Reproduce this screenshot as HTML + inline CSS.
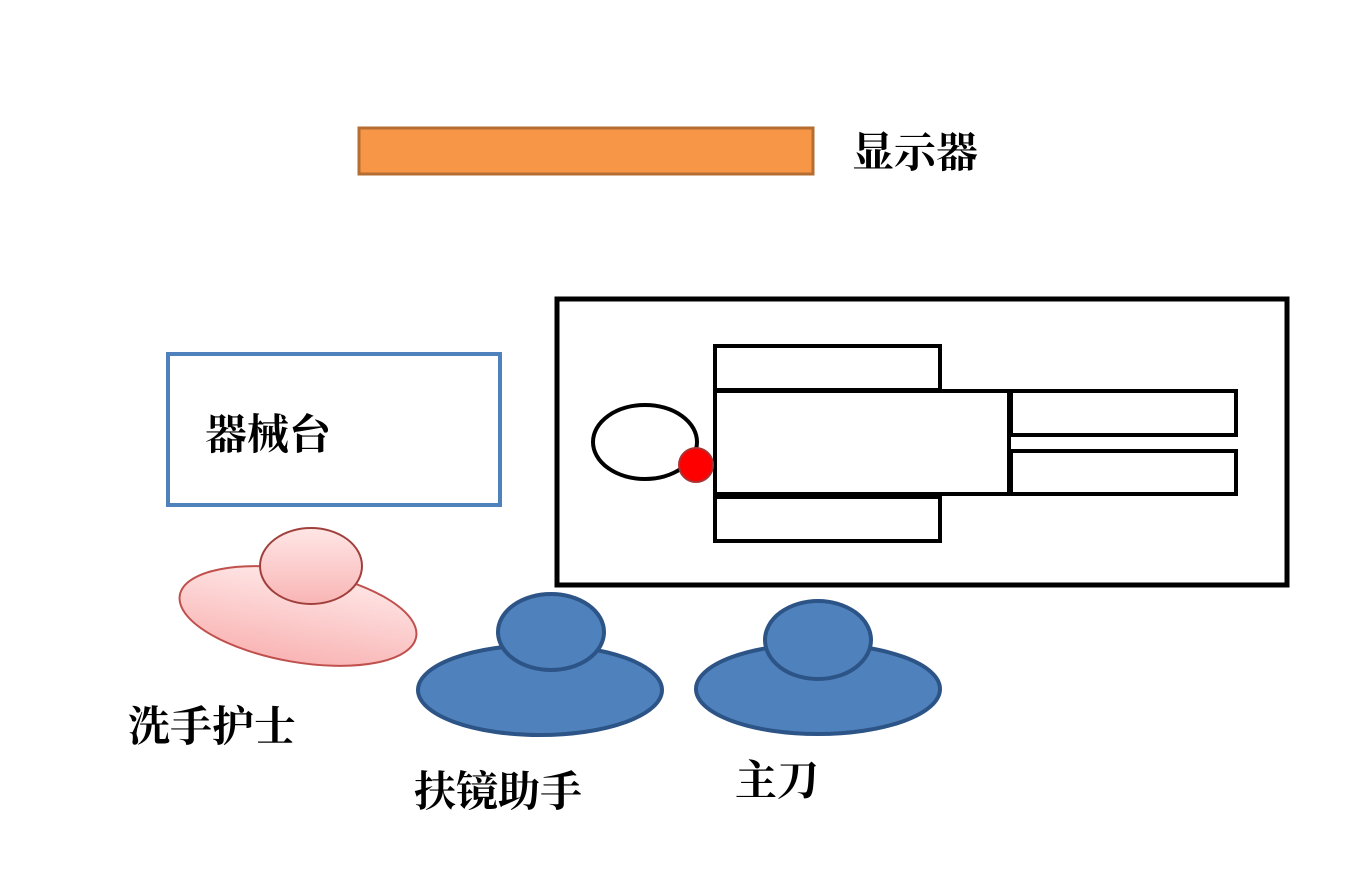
<!DOCTYPE html>
<html><head><meta charset="utf-8"><style>
html,body{margin:0;padding:0;background:#fff;}
svg{display:block}
text{font-family:"Liberation Serif","Noto Serif CJK SC",serif;font-weight:bold;fill:#000;}
</style></head><body>
<svg width="1358" height="870" viewBox="0 0 1358 870" xmlns="http://www.w3.org/2000/svg">
<defs>
<linearGradient id="pk" x1="0" y1="0" x2="0" y2="1">
<stop offset="0" stop-color="#ffe6e6"/><stop offset="1" stop-color="#f9b5b5"/>
</linearGradient>
</defs>
<rect x="359" y="128" width="454" height="46" fill="#f79646" stroke="#b66d31" stroke-width="3"/>
<text x="852" y="167" font-size="42">显示器</text>
<rect x="168" y="354" width="332" height="151" fill="#fff" stroke="#4f81bd" stroke-width="4"/>
<text x="205" y="449" font-size="42">器械台</text>
<rect x="557" y="299" width="730" height="286" fill="#fff" stroke="#000" stroke-width="5"/>
<rect x="715" y="346" width="225" height="44" fill="none" stroke="#000" stroke-width="4"/>
<rect x="715" y="497" width="225" height="44" fill="none" stroke="#000" stroke-width="4"/>
<rect x="715" y="391" width="294" height="103" fill="#fff" stroke="#000" stroke-width="4"/>
<rect x="1011" y="391" width="225" height="44" fill="none" stroke="#000" stroke-width="4"/>
<rect x="1011" y="451" width="225" height="43" fill="none" stroke="#000" stroke-width="4"/>
<ellipse cx="645" cy="442" rx="52" ry="37" fill="#fff" stroke="#000" stroke-width="4"/>
<circle cx="696" cy="465" r="17" fill="#ff0000" stroke="#a33" stroke-width="2"/>
<ellipse cx="298" cy="616" rx="120" ry="46" transform="rotate(10 298 616)" fill="url(#pk)" stroke="#c0504d" stroke-width="2"/>
<ellipse cx="311" cy="566" rx="51" ry="38" fill="url(#pk)" stroke="#a0403d" stroke-width="2"/>
<ellipse cx="540" cy="690" rx="122" ry="45" fill="#4f81bd" stroke="#2c5486" stroke-width="4"/>
<ellipse cx="551" cy="632" rx="53" ry="38" fill="#4f81bd" stroke="#2c5486" stroke-width="4"/>
<ellipse cx="818" cy="689" rx="122" ry="45" fill="#4f81bd" stroke="#2c5486" stroke-width="4"/>
<ellipse cx="818" cy="640" rx="53" ry="39" fill="#4f81bd" stroke="#2c5486" stroke-width="4"/>
<text x="128" y="741" font-size="42">洗手护士</text>
<text x="414" y="806" font-size="42">扶镜助手</text>
<text x="735" y="795" font-size="42">主刀</text>
</svg>
</body></html>
